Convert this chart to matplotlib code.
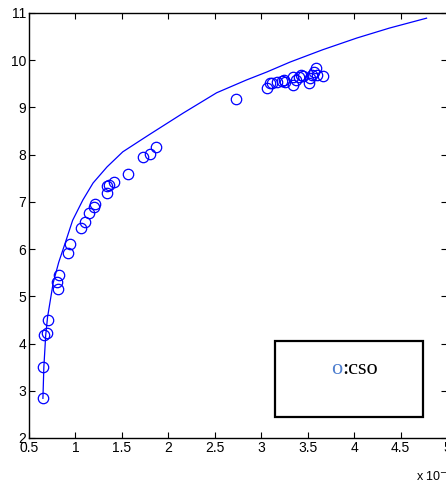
import matplotlib.pyplot as plt
import numpy as np

# measured points (x in units of 1e-3)
pts_x = [0.65, 0.65, 0.66, 0.69, 0.70, 0.80, 0.81, 0.82, 0.92, 0.94,
         1.06, 1.10, 1.15, 1.20, 1.21, 1.34, 1.34, 1.36, 1.41, 1.57,
         1.73, 1.80, 1.87, 2.73,
         3.06, 3.09, 3.12, 3.17, 3.22, 3.25, 3.26, 3.34, 3.34, 3.37,
         3.41, 3.43, 3.45, 3.51, 3.53, 3.55, 3.57, 3.59, 3.60, 3.66]
pts_y = [2.84, 3.50, 4.18, 4.22, 4.50, 5.30, 5.15, 5.45, 5.92, 6.11,
         6.45, 6.57, 6.76, 6.89, 6.95, 7.19, 7.33, 7.36, 7.42, 7.59,
         7.95, 8.01, 8.16, 9.18,
         9.41, 9.52, 9.52, 9.54, 9.56, 9.58, 9.54, 9.47, 9.64, 9.58,
         9.64, 9.69, 9.67, 9.52, 9.62, 9.69, 9.75, 9.83, 9.69, 9.67]

# fitted curve
fit_x = [0.65, 0.66, 0.68, 0.70, 0.76, 0.82, 0.89, 0.97, 1.08, 1.19,
         1.34, 1.51, 1.69, 1.80, 2.16, 2.52, 2.84, 3.06, 3.31, 3.66,
         4.03, 4.38, 4.78]
fit_y = [2.84, 3.50, 4.18, 4.56, 5.28, 5.72, 6.13, 6.61, 7.04, 7.40,
         7.74, 8.06, 8.29, 8.43, 8.88, 9.31, 9.58, 9.75, 9.96, 10.22,
         10.47, 10.68, 10.89]

plt.rcParams['font.family'] = ['Liberation Sans', 'DejaVu Sans']

fig = plt.figure(figsize=(4.46, 4.86), dpi=100, facecolor='white')
ax = fig.add_axes([0.065, 0.0988, 0.9372, 0.8745])

ax.plot(fit_x, fit_y, color='#0000ff', lw=0.9)
ax.plot(pts_x, pts_y, 'o', mfc='none', mec='#0000ff', ms=7.5, mew=0.9)

ax.set_xlim(0.5, 5)
ax.set_ylim(2, 11)
ax.set_xticks(np.arange(0.5, 5.01, 0.5))
ax.set_xticklabels(['0.5', '1', '1.5', '2', '2.5', '3', '3.5', '4', '4.5', '5'])
ax.set_yticks(range(2, 12))
ax.tick_params(direction='in', top=True, right=True, length=4, width=0.8,
               labelsize=10, pad=2)
for s in ax.spines.values():
    s.set_linewidth(1.0)

# text box
ax.add_patch(plt.Rectangle((0.589, 0.049), 0.354, 0.179, transform=ax.transAxes,
                           fill=False, lw=1.6, ec='black', zorder=5))
ax.text(0.75, 0.161, 'o', transform=ax.transAxes, color='#4f7fcf',
        family='Liberation Serif', fontsize=16, ha='right', va='center')
ax.text(0.75, 0.161, ':cso', transform=ax.transAxes, color='black',
        family='Liberation Serif', fontsize=16, ha='left', va='center')

fig.text(0.932, 0.003, r'x 10$^{-3}$', fontsize=9, ha='left', va='bottom')

fig.savefig('out.png', dpi=100)
